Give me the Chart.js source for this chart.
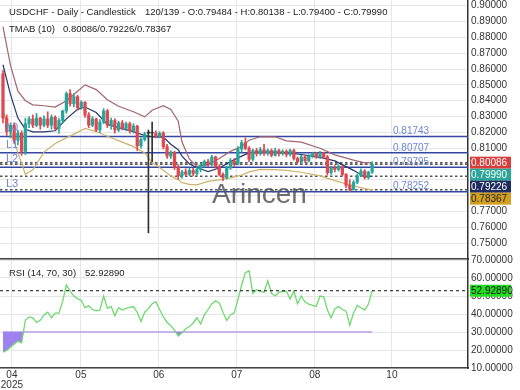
<!DOCTYPE html>
<html>
<head>
<meta charset="utf-8">
<script src="https://cdn.jsdelivr.net/npm/chart.js@4.4.1/dist/chart.umd.min.js"></script>
<style>
  html, body { margin: 0; padding: 0; background: #fff; }
  #wrap { position: relative; width: 520px; height: 390px; overflow: hidden; font-family: "Liberation Sans", Arial, sans-serif; }
  canvas { position: absolute; left: 0; }
  #main { top: 0; }
  #rsi { top: 252px; }
  .txt { position: absolute; font-size: 9.5px; line-height: 12px; color: #222; white-space: pre; }
  #mark { position: absolute; left: 212px; top: 180px; font-size: 28px; line-height: 28px; color: rgba(85, 85, 85, 0.85); }
</style>
</head>
<body>
<div id="wrap">
  <canvas id="main" width="520" height="261"></canvas>
  <canvas id="rsi" width="520" height="138"></canvas>
  <div id="mark">Arincen</div>
  <div class="txt" style="left:9px;top:6px">USDCHF - Daily - Candlestick</div>
  <div class="txt" id="ohlc" style="left:145px;top:6px"></div>
  <div class="txt" style="left:9px;top:23px">TMAB (10)</div>
  <div class="txt" id="tmab" style="left:63px;top:23px"></div>
  <div class="txt" style="left:9px;top:267px">RSI (14, 70, 30)</div>
  <div class="txt" id="rsival" style="left:85px;top:267px"></div>
</div>
<script>
  // candles
  const opens = [
    0.8570, 0.8290, 0.8205, 0.8245, 0.8150, 0.8195, 0.8080, 0.8255, 0.8285, 0.8245,
    0.8290, 0.8245, 0.8285, 0.8245, 0.8295, 0.8225, 0.8275, 0.8335, 0.8445, 0.8380,
    0.8425, 0.8355, 0.8390, 0.8310, 0.8245, 0.8285, 0.8215, 0.8265, 0.8335, 0.8245,
    0.8275, 0.8215, 0.8260, 0.8225, 0.8255, 0.8210, 0.8240, 0.8115, 0.8155, 0.8195,
    0.8195, 0.8195, 0.8175, 0.8195, 0.8110, 0.8050, 0.8075, 0.7980, 0.7925, 0.7950,
    0.7935, 0.7960, 0.7940, 0.7965, 0.7990, 0.8015, 0.7995, 0.8045, 0.7985, 0.7935,
    0.7915, 0.7975, 0.8020, 0.8000, 0.8095, 0.8135, 0.8100, 0.8030, 0.8085, 0.8065,
    0.8090, 0.8070, 0.8085, 0.8055, 0.8085, 0.8065, 0.8080, 0.8060, 0.8085, 0.8035,
    0.8015, 0.8045, 0.8020, 0.8050, 0.8065, 0.8045, 0.8070, 0.8045, 0.7945, 0.7975,
    0.7965, 0.7985, 0.7935, 0.7865, 0.7840, 0.7885, 0.7925, 0.7955, 0.7915, 0.79484
  ];
  const highs = [
    0.8590, 0.8310, 0.8260, 0.8260, 0.8215, 0.8210, 0.8290, 0.8300, 0.8310, 0.8320,
    0.8295, 0.8305, 0.8330, 0.8310, 0.8305, 0.8290, 0.8340, 0.8455, 0.8470, 0.8445,
    0.8435, 0.8400, 0.8395, 0.8325, 0.8300, 0.8290, 0.8280, 0.8350, 0.8345, 0.8290,
    0.8285, 0.8270, 0.8275, 0.8265, 0.8265, 0.8255, 0.8245, 0.8165, 0.8200, 0.8215,
    0.8265, 0.8210, 0.8205, 0.8205, 0.8125, 0.8085, 0.8080, 0.7995, 0.7960, 0.7970,
    0.7975, 0.7975, 0.7980, 0.8000, 0.8025, 0.8030, 0.8055, 0.8050, 0.7995, 0.7945,
    0.7985, 0.8035, 0.8035, 0.8110, 0.8150, 0.8165, 0.8110, 0.8095, 0.8100, 0.8105,
    0.8125, 0.8095, 0.8095, 0.8100, 0.8095, 0.8090, 0.8090, 0.8095, 0.8095, 0.8045,
    0.8055, 0.8055, 0.8060, 0.8075, 0.8075, 0.8080, 0.8075, 0.8055, 0.7985, 0.7990,
    0.7995, 0.7990, 0.7940, 0.7900, 0.7895, 0.7935, 0.7970, 0.7965, 0.7955, 0.80138
  ];
  const lows = [
    0.8260, 0.8180, 0.8165, 0.8130, 0.8120, 0.8055, 0.8060, 0.8230, 0.8230, 0.8235,
    0.8220, 0.8235, 0.8230, 0.8220, 0.8215, 0.8195, 0.8260, 0.8320, 0.8365, 0.8360,
    0.8340, 0.8345, 0.8295, 0.8230, 0.8235, 0.8205, 0.8200, 0.8255, 0.8230, 0.8220,
    0.8195, 0.8205, 0.8215, 0.8210, 0.8195, 0.8195, 0.8085, 0.8100, 0.8145, 0.7565,
    0.8015, 0.8165, 0.8165, 0.8095, 0.8035, 0.8035, 0.7965, 0.7905, 0.7910, 0.7925,
    0.7925, 0.7925, 0.7930, 0.7950, 0.7980, 0.7985, 0.7990, 0.7975, 0.7925, 0.7895,
    0.7905, 0.7965, 0.7985, 0.7995, 0.8075, 0.8090, 0.8015, 0.8020, 0.8050, 0.8055,
    0.8055, 0.8055, 0.8045, 0.8050, 0.8050, 0.8055, 0.8045, 0.8050, 0.8025, 0.8005,
    0.8005, 0.8010, 0.8015, 0.8040, 0.8035, 0.8035, 0.8035, 0.7930, 0.7935, 0.7950,
    0.7955, 0.7925, 0.7850, 0.7826, 0.7835, 0.7875, 0.7920, 0.7905, 0.7905, 0.79400
  ];
  const closes = [
    0.8290, 0.8205, 0.8245, 0.8150, 0.8195, 0.8080, 0.8255, 0.8285, 0.8245, 0.8290,
    0.8245, 0.8285, 0.8245, 0.8295, 0.8225, 0.8275, 0.8335, 0.8445, 0.8380, 0.8425,
    0.8355, 0.8390, 0.8310, 0.8245, 0.8285, 0.8215, 0.8265, 0.8335, 0.8245, 0.8275,
    0.8215, 0.8260, 0.8225, 0.8255, 0.8210, 0.8240, 0.8115, 0.8155, 0.8190, 0.8195,
    0.8195, 0.8175, 0.8195, 0.8110, 0.8050, 0.8075, 0.7980, 0.7925, 0.7950, 0.7935,
    0.7960, 0.7940, 0.7965, 0.7990, 0.8015, 0.7995, 0.8045, 0.7985, 0.7935, 0.7915,
    0.7975, 0.8020, 0.8000, 0.8095, 0.8135, 0.8100, 0.8030, 0.8085, 0.8065, 0.8090,
    0.8070, 0.8085, 0.8055, 0.8085, 0.8065, 0.8080, 0.8060, 0.8085, 0.8035, 0.8015,
    0.8045, 0.8020, 0.8050, 0.8065, 0.8045, 0.8070, 0.8045, 0.7945, 0.7975, 0.7965,
    0.7985, 0.7935, 0.7865, 0.7840, 0.7885, 0.7925, 0.7955, 0.7915, 0.79484, 0.79990
  ];

  // TMAB (10) bands, sampled at these candle indices
  const bandIdx = [0, 2, 4, 6, 8, 11, 14, 17, 20, 22, 25, 28, 31, 35, 38, 40, 43, 45, 47, 48,
    50, 52, 55, 58, 61, 64, 66, 69, 73, 76, 80, 85, 89, 94, 97, 99];
  const tmabUpper = [0.8868, 0.8625, 0.8460, 0.8400, 0.8374, 0.8368, 0.8360, 0.8400, 0.8460, 0.8500,
    0.8470, 0.8406, 0.8365, 0.8330, 0.8298, 0.8340, 0.8368, 0.8345, 0.8270, 0.8140,
    0.8030, 0.7985, 0.7995, 0.8035, 0.8080, 0.8110, 0.8150, 0.8172, 0.8172, 0.8146,
    0.8138, 0.8100, 0.8058, 0.8025, 0.8007, 0.80086];
  const tmabMid = [0.8627, 0.8440, 0.8290, 0.8220, 0.8203, 0.8203, 0.8210, 0.8285, 0.8345, 0.8360,
    0.8325, 0.8250, 0.8230, 0.8205, 0.8180, 0.8172, 0.8170, 0.8125, 0.8090, 0.8050,
    0.8000, 0.7978, 0.7952, 0.7975, 0.8015, 0.8050, 0.8070, 0.8077, 0.8075, 0.8070,
    0.8060, 0.8042, 0.8020, 0.7960, 0.7918, 0.79226];
  const tmabLower = [0.8330, 0.8215, 0.8070, 0.7935, 0.7963, 0.8075, 0.8130, 0.8165, 0.8200, 0.8225,
    0.8205, 0.8175, 0.8148, 0.8110, 0.8070, 0.8010, 0.7960, 0.7925, 0.7900, 0.7882,
    0.7872, 0.7868, 0.7890, 0.7900, 0.7912, 0.7930, 0.7950, 0.7966, 0.7965, 0.7960,
    0.7948, 0.7925, 0.7895, 0.7862, 0.7845, 0.78367];

  // RSI (14), one per candle
  const rsiValues = [
    18.8, 19.7, 21.5, 23.3, 24.9, 24.0, 36.5, 38.4, 37.9, 35.3,
    36.5, 39.5, 41.0, 37.9, 40.5, 40.5, 47.0, 56.1, 52.7, 50.0,
    48.5, 47.5, 43.5, 44.5, 42.5, 41.8, 42.2, 50.0, 43.1, 44.2,
    39.0, 43.5, 42.2, 43.1, 43.8, 44.0, 41.0, 35.8, 41.0, 43.0,
    45.7, 46.8, 42.5, 38.5, 35.3, 33.5, 31.0, 27.8, 29.5, 31.8,
    33.0, 35.0, 37.9, 34.5, 39.5, 42.5, 45.7, 47.4, 46.2, 41.0,
    36.5, 39.6, 40.5, 48.0, 56.1, 63.0, 64.0, 51.5, 53.5, 52.7,
    52.0, 58.5, 51.5, 50.0, 52.1, 52.5, 52.7, 48.3, 52.7, 45.7,
    50.0, 46.6, 45.5, 44.8, 44.2, 50.0, 49.5, 42.2, 37.9, 43.0,
    44.2, 42.5, 41.6, 33.8, 40.5, 44.8, 43.5, 42.2, 45.5, 52.9289
  ];
  const rsiLow = 30;

  // horizontal levels
  const levelNames = ["L0", "L1", "L2", "L3"];
  const levelValues = [0.81743, 0.80707, 0.79795, 0.78252];
  const lastValues = [0.80086, 0.79990, 0.79226, 0.78367];

  // axes
  const priceTicks = [0.74, 0.75, 0.76, 0.77, 0.78, 0.79, 0.80, 0.81, 0.82, 0.83, 0.84, 0.85,
    0.86, 0.87, 0.88, 0.89, 0.90];
  const rsiTicks = [10, 20, 30, 40, 50, 60, 70];
  const monthLabels = ["04", "05", "06", "07", "08", "10"];
  const monthPos = [2.4, 20.9, 41.8, 62.7, 83.6, 104.3];
  const yearLabel = "2025";

  const X_MIN = -0.8, X_MAX = 124.7;
  const UP = "#26a69a", DOWN = "#e0474f", DOJI = "#333";
  const GRID = "#e6e6e6";

  Chart.defaults.font.family = "'Liberation Sans', Arial, sans-serif";
  Chart.defaults.font.size = 10;
  Chart.defaults.color = "#333";

  const last = closes.length - 1;
  document.getElementById("ohlc").textContent =
    `120/139 - O:${opens[last].toFixed(5)} - H:${highs[last].toFixed(5)} - L:${lows[last].toFixed(5)} - C:${closes[last].toFixed(5)}`;
  document.getElementById("tmab").textContent =
    [tmabUpper, tmabMid, tmabLower].map((a) => a[a.length - 1].toFixed(5)).join("/");
  document.getElementById("rsival").textContent = rsiValues[last].toFixed(5);

  const candleColors = opens.map((o, i) => (o === closes[i] ? DOJI : closes[i] > o ? UP : DOWN));

  function noPad(s) {
    s.paddingTop = 0; s.paddingBottom = 0; s.paddingLeft = 0; s.paddingRight = 0;
  }

  function xAxis(showLabels) {
    return {
      type: "linear",
      min: X_MIN,
      max: X_MAX,
      offset: false,
      grid: { color: GRID, offset: false, drawTicks: false },
      border: { display: true, color: "#444", width: 1.5 },
      ticks: {
        display: showLabels,
        autoSkip: false,
        maxRotation: 0,
        padding: 2,
        color: "#333",
        font: { size: 10, lineHeight: 1 },
        callback: (v, i) => (i === 0 ? [monthLabels[0], yearLabel] : monthLabels[i]),
      },
      afterBuildTicks: (s) => { s.ticks = monthPos.map((value) => ({ value })); },
      afterFit: (s) => { s.height = showLabels ? 22 : 0; noPad(s); },
    };
  }

  function hLine(ctx, area, py, dash) {
    ctx.setLineDash(dash || []);
    ctx.beginPath();
    ctx.moveTo(area.left, py);
    ctx.lineTo(area.right, py);
    ctx.stroke();
  }

  function valueBox(ctx, x, yMid, bg, fg, text) {
    ctx.fillStyle = bg;
    ctx.fillRect(x, yMid - 6, 41, 12);
    ctx.fillStyle = fg;
    ctx.textAlign = "left";
    ctx.textBaseline = "middle";
    ctx.fillText(text, x + 1, yMid + 0.5);
  }

  const mainOverlay = {
    id: "mainOverlay",
    beforeDatasetsDraw(chart) {
      const { ctx, chartArea: a, scales: { y } } = chart;
      ctx.save();
      ctx.strokeStyle = "#3447a3";
      ctx.lineWidth = 1.5;
      levelValues.forEach((v) => hLine(ctx, a, y.getPixelForValue(v)));
      ctx.strokeStyle = "#555";
      lastValues.forEach((v) => hLine(ctx, a, y.getPixelForValue(v), [2.5, 2.5]));
      ctx.restore();
    },
    afterDraw(chart) {
      const { ctx, scales: { y } } = chart;
      ctx.save();
      ctx.fillStyle = "#6d87d6";
      ctx.textBaseline = "middle";
      levelValues.forEach((v, i) => {
        const py = y.getPixelForValue(v);
        ctx.font = "11px 'Liberation Sans', Arial, sans-serif";
        ctx.fillText(levelNames[i], 6, py - 8);
        ctx.font = "10px 'Liberation Sans', Arial, sans-serif";
        ctx.fillText(v.toFixed(5), 393, py - 5);
      });
      ctx.font = "10px 'Liberation Sans', Arial, sans-serif";
      const styles = [["#d83d3d", "#fff"], ["#2aa597", "#fff"], ["#1d2b5e", "#fff"], ["#d29f1e", "#222"]];
      let prev = -1e9;
      lastValues.forEach((v, i) => {
        const py = Math.max(y.getPixelForValue(v), prev + 12);
        prev = py;
        valueBox(ctx, 470, py, styles[i][0], styles[i][1], v.toFixed(5));
      });
      ctx.restore();
    },
  };

  const candleIdx = closes.map((_, i) => i);

  new Chart(document.getElementById("main"), {
    type: "bar",
    data: {
      datasets: [
        {
          data: candleIdx.map((i) => ({ x: i, y: [opens[i], closes[i]] })),
          backgroundColor: candleColors,
          barThickness: 2.6,
          minBarLength: 1,
          grouped: false,
          order: 0,
        },
        {
          data: candleIdx.map((i) => ({ x: i, y: [lows[i], highs[i]] })),
          backgroundColor: candleColors,
          barThickness: 1,
          grouped: false,
          order: 1,
        },
        {
          type: "line",
          data: bandIdx.map((x, k) => ({ x, y: tmabUpper[k] })),
          borderColor: "#a6646e", borderWidth: 1.2, pointRadius: 0, tension: 0, order: 2,
        },
        {
          type: "line",
          data: bandIdx.map((x, k) => ({ x, y: tmabMid[k] })),
          borderColor: "#26366d", borderWidth: 1.2, pointRadius: 0, tension: 0, order: 3,
        },
        {
          type: "line",
          data: bandIdx.map((x, k) => ({ x, y: tmabLower[k] })),
          borderColor: "#cdb36c", borderWidth: 1.2, pointRadius: 0, tension: 0, order: 4,
        },
      ],
    },
    options: {
      responsive: false,
      animation: false,
      devicePixelRatio: 1,
      events: [],
      layout: { padding: { top: 0, left: 0, right: 0, bottom: 2 } },
      plugins: { legend: { display: false }, tooltip: { enabled: false } },
      scales: {
        x: xAxis(false),
        y: {
          position: "right",
          min: 0.74,
          max: 0.90361,
          grid: { color: GRID, drawTicks: false },
          border: { color: "#333", width: 1.5 },
          ticks: {
            padding: 3,
            color: "#333",
            callback: (v) => (v < 0.745 ? "" : v.toFixed(5)),
          },
          afterBuildTicks: (s) => { s.ticks = priceTicks.map((value) => ({ value })); },
          afterFit: (s) => { s.width = 52; noPad(s); },
        },
      },
    },
    plugins: [mainOverlay],
  });

  const rsiOverlay = {
    id: "rsiOverlay",
    afterDraw(chart) {
      const { ctx, chartArea: a, scales: { y } } = chart;
      const cur = rsiValues[rsiValues.length - 1];
      const py = y.getPixelForValue(cur);
      ctx.save();
      ctx.strokeStyle = "#111";
      ctx.lineWidth = 1;
      hLine(ctx, a, py, [3, 3]);
      ctx.setLineDash([]);
      ctx.font = "10px 'Liberation Sans', Arial, sans-serif";
      valueBox(ctx, 470, py, "#22dd22", "#111", cur.toFixed(5));
      ctx.restore();
    },
  };

  new Chart(document.getElementById("rsi"), {
    type: "line",
    data: {
      datasets: [
        {
          data: rsiValues.map((v, i) => ({ x: i, y: v })),
          borderColor: "#6fd96f",
          borderWidth: 1.3,
          pointRadius: 0,
          tension: 0,
          fill: { target: { value: rsiLow }, above: "rgba(0,0,0,0)", below: "#9f82ee" },
          order: 0,
        },
        {
          data: [{ x: 0, y: rsiLow }, { x: last, y: rsiLow }],
          borderColor: "#b79ee8",
          borderWidth: 1.5,
          pointRadius: 0,
          order: 1,
        },
      ],
    },
    options: {
      responsive: false,
      animation: false,
      devicePixelRatio: 1,
      events: [],
      layout: { padding: { top: 8, left: 0, right: 0, bottom: 0 } },
      plugins: { legend: { display: false }, tooltip: { enabled: false } },
      scales: {
        x: xAxis(true),
        y: {
          position: "right",
          min: 10,
          max: 70,
          grid: { color: GRID, drawTicks: false },
          border: { color: "#333", width: 1.5 },
          ticks: { padding: 3, color: "#333", callback: (v) => v.toFixed(5) },
          afterBuildTicks: (s) => { s.ticks = rsiTicks.map((value) => ({ value })); },
          afterFit: (s) => { s.width = 52; noPad(s); },
        },
      },
    },
    plugins: [rsiOverlay],
  });
</script>
</body>
</html>
